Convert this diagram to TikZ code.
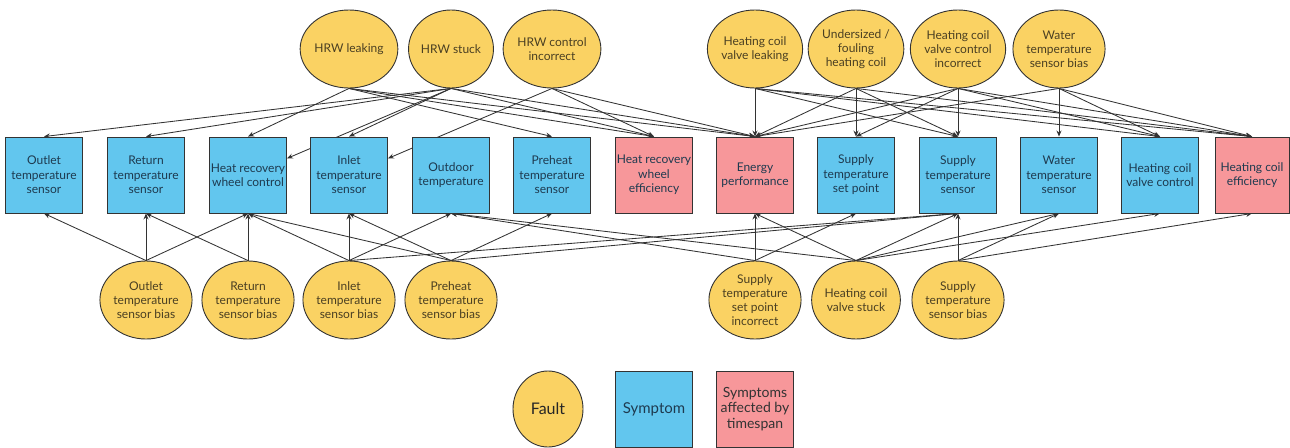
\documentclass[tikz,border=0pt]{standalone}
\usepackage{fontspec}
\setmainfont{Lato}
\usetikzlibrary{arrows.meta,backgrounds,shapes.geometric}

\definecolor{faultfill}{HTML}{FAD263}
\definecolor{symfill}{HTML}{62C6EE}
\definecolor{timefill}{HTML}{F7979A}
\definecolor{edgegray}{HTML}{333333}
\definecolor{faulttext}{HTML}{4A3F22}
\definecolor{symtext}{HTML}{1E3A4F}

\tikzset{
  fault/.style={ellipse, draw=edgegray, line width=0.9pt, fill=faultfill,
    minimum width=72pt, minimum height=78pt, inner sep=0pt, align=center,
    font=\fontsize{12}{14}\selectfont, text=faulttext},
  symptom/.style={rectangle, draw=edgegray, line width=0.9pt, fill=symfill,
    minimum width=77pt, minimum height=76pt, inner sep=0pt, align=center,
    font=\fontsize{12}{14.5}\selectfont, text=symtext},
  timed/.style={symptom, fill=timefill},
  link/.style={draw=edgegray, line width=0.85pt, -{Stealth[length=6pt,width=5pt]}},
}

\begin{document}
\begin{tikzpicture}[x=1pt,y=-1pt]
\useasboundingbox (0,0) rectangle (1290,447);

% symptom row
\node[symptom] (outlet)  at (44,175)   {Outlet\\temperature\\sensor};
\node[symptom] (return)  at (146,175)  {Return\\temperature\\sensor};
\node[symptom] (hrwc)    at (248,175)  {Heat recovery\\wheel control};
\node[symptom] (inlet)   at (349,175)  {Inlet\\temperature\\sensor};
\node[symptom] (outdoor) at (451,175)  {Outdoor\\temperature};
\node[symptom] (preheat) at (552,175)  {Preheat\\temperature\\sensor};
\node[timed]   (hrwe)    at (654,175)  {Heat recovery\\wheel\\efficiency};
\node[timed]   (energy)  at (755,175)  {Energy\\performance};
\node[symptom] (supsp)   at (856,175)  {Supply\\temperature\\set point};
\node[symptom] (supsen)  at (958,175)  {Supply\\temperature\\sensor};
\node[symptom] (water)   at (1059,175) {Water\\temperature\\sensor};
\node[symptom] (hcvc)    at (1160,175) {Heating coil\\valve control};
\node[timed, minimum width=74pt] (hce) at (1252,175) {Heating coil\\efficiency};

% faults above
\node[fault] (hrwleak)  at (349,49)  {HRW leaking};
\node[fault] (hrwstuck) at (451,49)  {HRW stuck};
\node[fault] (hrwctrl)  at (552,49)  {HRW control\\incorrect};
\node[fault] (hcvleak)  at (755,49)  {Heating coil\\valve leaking};
\node[fault] (hcfoul)   at (856,49)  {Undersized /\\fouling\\heating coil};
\node[fault] (hcvctrl)  at (958,49)  {Heating coil\\valve control\\incorrect};
\node[fault] (wtbias)   at (1059,49) {Water\\temperature\\sensor bias};

% faults below
\node[fault] (outbias)  at (146,300) {Outlet\\temperature\\sensor bias};
\node[fault] (retbias)  at (248,300) {Return\\temperature\\sensor bias};
\node[fault] (inbias)   at (349,300) {Inlet\\temperature\\sensor bias};
\node[fault] (prebias)  at (451,300) {Preheat\\temperature\\sensor bias};
\node[fault] (spwrong)  at (755,300) {Supply\\temperature\\set point\\incorrect};
\node[fault] (hcvstuck) at (856,300) {Heating coil\\valve stuck};
\node[fault] (supbias)  at (958,300) {Supply\\temperature\\sensor bias};

% legend
\node[fault, minimum width=70pt, minimum height=76pt, font=\fontsize{16}{19}\selectfont, text=black!85] (lgfault) at (548,409) {Fault};
\node[symptom, font=\fontsize{15}{18}\selectfont] (lgsym) at (654,409) {Symptom};
\node[timed, font=\fontsize{14}{15.5}\selectfont, text=black!80] (lgtime) at (755,409) {Symptoms\\affected by\\timespan};

\begin{pgfonlayer}{background}
% heat recovery wheel faults
\draw[link] (hrwleak.south) -- (hrwc.north);
\draw[link] (hrwleak.south) -- (preheat.north);
\draw[link] (hrwleak.south) -- (hrwe.north);
\draw[link] (hrwleak.south) -- (energy.north);
\draw[link] (hrwstuck.south) -- (outlet.north);
\draw[link] (hrwstuck.south) -- (return.north);
\draw[link] (hrwstuck.south) -- (inlet.north);
\draw[link] (hrwstuck.south) -- (hrwc);
\draw[link] (hrwstuck.south) -- (hrwe.north);
\draw[link] (hrwstuck.south) -- (energy.north);
\draw[link] (hrwctrl.south) -- (inlet);
\draw[link] (hrwctrl.south) -- (hrwe.north);
\draw[link] (hrwctrl.south) -- (energy.north);
% heating coil faults
\draw[link] (hcvleak.south) -- (energy.north);
\draw[link] (hcvleak.south) -- (supsen.north);
\draw[link] (hcvleak.south) -- (hcvc.north);
\draw[link] (hcvleak.south) -- (hce.north);
\draw[link] (hcfoul.south) -- (supsp.north);
\draw[link] (hcfoul.south) -- (energy.north);
\draw[link] (hcfoul.south) -- (supsen.north);
\draw[link] (hcfoul.south) -- (hce.north);
\draw[link] (hcvctrl.south) -- (supsen.north);
\draw[link] (hcvctrl.south) -- (energy.north);
\draw[link] (hcvctrl.south) -- (supsp.north);
\draw[link] (hcvctrl.south) -- (hcvc.north);
\draw[link] (hcvctrl.south) -- (hce.north);
\draw[link] (wtbias.south) -- (water.north);
\draw[link] (wtbias.south) -- (energy.north);
\draw[link] (wtbias.south) -- (hcvc.north);
\draw[link] (wtbias.south) -- (hce.north);
% sensor faults below
\draw[link] (outbias.north) -- (outlet.south);
\draw[link] (outbias.north) -- (return.south);
\draw[link] (outbias.north) -- (hrwc.south);
\draw[link] (retbias.north) -- (return.south);
\draw[link] (retbias.north) -- (hrwc.south);
\draw[link] (inbias.north) -- (hrwc.south);
\draw[link] (inbias.north) -- (inlet.south);
\draw[link] (inbias.north) -- (outdoor.south);
\draw[link] (inbias.north) -- (supsen.south);
\draw[link] (prebias.north) -- (hrwc.south);
\draw[link] (prebias.north) -- (inlet.south);
\draw[link] (prebias.north) -- (preheat.south);
\draw[link] (prebias.north) -- (supsen.south);
\draw[link] (spwrong.north) -- (energy.south);
\draw[link] (spwrong.north) -- (supsp.south);
\draw[link] (spwrong.north) -- (outdoor.south);
\draw[link] (hcvstuck.north) -- (energy.south);
\draw[link] (hcvstuck.north) -- (supsen.south);
\draw[link] (hcvstuck.north) -- (water.south);
\draw[link] (hcvstuck.north) -- (hcvc.south);
\draw[link] (hcvstuck.north) -- (outdoor.south);
\draw[link] (supbias.north) -- (supsen.south);
\draw[link] (supbias.north) -- (water.south);
\draw[link] (supbias.north) -- (hce.south);
\end{pgfonlayer}
\end{tikzpicture}
\end{document}
